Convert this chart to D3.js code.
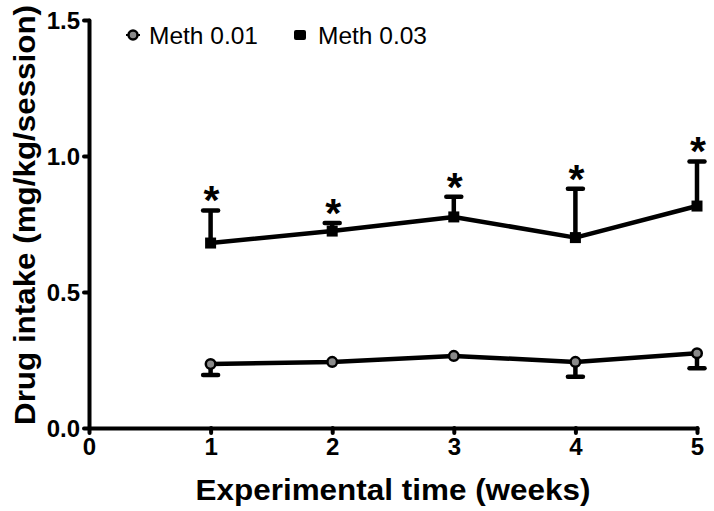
<!DOCTYPE html>
<html><head><meta charset="utf-8">
<script src="https://cdn.jsdelivr.net/npm/d3@7"></script>
<style>body{margin:0;background:#fff}svg{display:block}text{font-family:"Liberation Sans",Arial,sans-serif}</style>
</head><body><svg id="c" width="714" height="511"></svg>
<script>
const weeks = [1, 2, 3, 4, 5];
const seriesNames = ["Meth 0.01", "Meth 0.03"];
const meth001 = [0.235, 0.243, 0.265, 0.243, 0.275];
const meth001Err = [0.04, 0.0, 0.0, 0.055, 0.055];
const meth003 = [0.68, 0.724, 0.776, 0.70, 0.816];
const meth003Err = [0.12, 0.03, 0.074, 0.18, 0.164];
const significant = [true, true, true, true, true];
const xTicks = [0, 1, 2, 3, 4, 5];
const yTicks = [0.0, 0.5, 1.0, 1.5];

const svg = d3.select("#c");
svg.append("rect").attr("width",714).attr("height",511).attr("fill","#fff");
const x = d3.scaleLinear().domain([0,5]).range([89,697]);
const y = d3.scaleLinear().domain([0,1.5]).range([428,20]);

// axes
const yAxis = d3.axisLeft(y).tickValues(yTicks).tickFormat(d3.format(".1f")).tickSize(5).tickSizeOuter(0).tickPadding(4);
const gy = svg.append("g").attr("transform","translate(89,0)").call(yAxis);
const xAxis = d3.axisBottom(x).tickValues(xTicks).tickFormat(d3.format("d")).tickSize(5).tickSizeOuter(0).tickPadding(5);
const gx = svg.append("g").attr("transform","translate(0,428)").call(xAxis);
[gx,gy].forEach(g=>{
  g.select(".domain").attr("stroke","#000").attr("stroke-width",4).attr("stroke-linecap","round");
  g.selectAll(".tick line").attr("stroke","#000").attr("stroke-width",4).attr("stroke-linecap","round");
  g.selectAll(".tick text").attr("fill","#000").attr("font-size",24).attr("font-weight","bold")
   .style("font-family",'"Liberation Sans",Arial,sans-serif');
});
gy.selectAll(".tick text").attr("dy","0.36em");
gx.selectAll(".tick text").attr("dy","0.72em");

// lines
const line = d3.line().x((d,i)=>x(weeks[i])).y(d=>y(d));
svg.append("path").datum(meth001).attr("d",line).attr("fill","none").attr("stroke","#000").attr("stroke-width",4.5).attr("stroke-linejoin","round");
svg.append("path").datum(meth003).attr("d",line).attr("fill","none").attr("stroke","#000").attr("stroke-width",4.5).attr("stroke-linejoin","round");

// error bars
function errBars(vals, errs, dir){
  const g = svg.append("g");
  vals.forEach((v,i)=>{
    if(!errs[i]) return;
    const e = v + dir*errs[i];
    g.append("line").attr("x1",x(weeks[i])).attr("x2",x(weeks[i])).attr("y1",y(v)).attr("y2",y(e)).attr("stroke","#000").attr("stroke-width",4.5);
    g.append("line").attr("x1",x(weeks[i])-7.5).attr("x2",x(weeks[i])+7.5).attr("y1",y(e)).attr("y2",y(e)).attr("stroke","#000").attr("stroke-width",4.5).attr("stroke-linecap","round");
  });
}
errBars(meth003, meth003Err, 1);
errBars(meth001, meth001Err, -1);

// markers
svg.append("g").selectAll("rect").data(meth003).join("rect")
  .attr("x",(d,i)=>x(weeks[i])-5.5).attr("y",d=>y(d)-5.5).attr("width",11).attr("height",11).attr("fill","#000");
svg.append("g").selectAll("circle").data(meth001).join("circle")
  .attr("cx",(d,i)=>x(weeks[i])).attr("cy",d=>y(d)).attr("r",4.8).attr("fill","#8a8a8a").attr("stroke","#000").attr("stroke-width",2.5);

// asterisks
svg.append("g").selectAll("text").data(meth003.map((v,i)=>({v,i})).filter(d=>significant[d.i])).join("text")
  .attr("x",d=>x(weeks[d.i])+1).attr("y",d=>y(d.v+meth003Err[d.i])+4).attr("text-anchor","middle")
  .attr("font-size",41).attr("font-weight","bold").text("*");

// legend
const lg = svg.append("g");
lg.append("line").attr("x1",126).attr("x2",140).attr("y1",35).attr("y2",35).attr("stroke","#000").attr("stroke-width",2);
lg.append("circle").attr("cx",133).attr("cy",35).attr("r",4.5).attr("fill","#8a8a8a").attr("stroke","#000").attr("stroke-width",2.5);
lg.append("text").attr("x",149).attr("y",44).attr("font-size",24.5).text(seriesNames[0]);
lg.append("rect").attr("x",294).attr("y",30).attr("width",12).attr("height",10).attr("rx",2).attr("fill","#000");
lg.append("text").attr("x",318).attr("y",44).attr("font-size",24.5).text(seriesNames[1]);

// titles
svg.append("text").attr("x",393).attr("y",500).attr("text-anchor","middle").attr("font-size",29).attr("font-weight","bold")
  .attr("textLength",395).attr("lengthAdjust","spacingAndGlyphs").text("Experimental time (weeks)");
svg.append("text").attr("transform","translate(35,215) rotate(-90)").attr("text-anchor","middle").attr("font-size",29).attr("font-weight","bold")
  .attr("textLength",420).attr("lengthAdjust","spacingAndGlyphs").text("Drug intake (mg/kg/session)");
</script></body></html>
